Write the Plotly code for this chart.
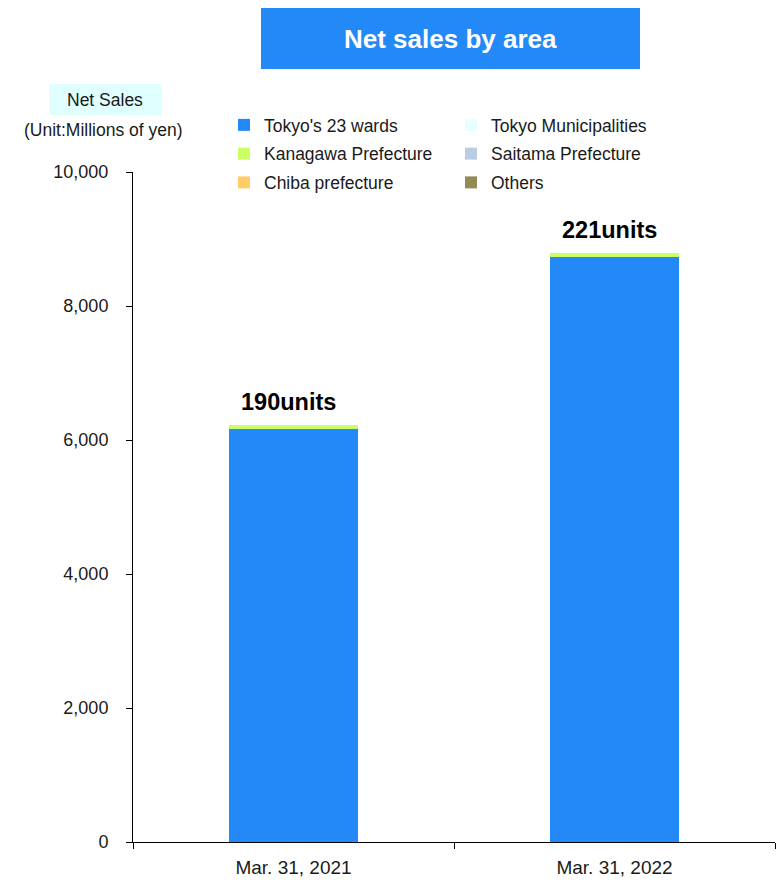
import plotly.graph_objects as go

# Fiscal year-end categories
periods = ["Mar. 31, 2021", "Mar. 31, 2022"]

# Net sales by area (millions of yen)
tokyo_23_wards = [6157, 8729]
tokyo_municipalities = [0, 0]
kanagawa = [64, 64]
saitama = [0, 0]
chiba = [0, 0]
others = [0, 0]

# Units sold per period
units = [190, 221]

y_ticks = [0, 2000, 4000, 6000, 8000, 10000]

W, H = 781, 882
M_L, M_R, M_T, M_B = 133, 6, 172, 40
PW, PH = W - M_L - M_R, H - M_T - M_B


def px_x(px):
    return (px - M_L) / PW


def px_y(py):
    return 1 + (M_T - py) / PH


FONT = "Liberation Sans, Arial, sans-serif"
INK = "#1a1a1a"

series = [
    ("Tokyo's 23 wards", tokyo_23_wards, "#2389F7", "legend"),
    ("Tokyo Municipalities", tokyo_municipalities, "#E6FFFF", "legend2"),
    ("Kanagawa Prefecture", kanagawa, "#CCFF66", "legend"),
    ("Saitama Prefecture", saitama, "#B8CCE4", "legend2"),
    ("Chiba prefecture", chiba, "#FFCC66", "legend"),
    ("Others", others, "#948A54", "legend2"),
]

fig = go.Figure()
for name, vals, color, leg in series:
    fig.add_trace(go.Bar(
        x=periods, y=vals, name=name, marker_color=color,
        marker_line_width=0, legend=leg, legendgroup=name,
    ))

totals = [sum(v) for v in zip(*[s[1] for s in series])]
for p, t, u in zip(periods, totals, units):
    fig.add_annotation(
        x=p, y=t, text=f"<b>{u}units</b>", showarrow=False,
        xanchor="center", yanchor="bottom", yshift=8, xshift=-5,
        font=dict(family=FONT, size=23.5, color="#000000"),
    )

# Title banner
fig.add_shape(type="rect", xref="paper", yref="paper",
              x0=px_x(261), x1=px_x(640), y0=px_y(69), y1=px_y(8),
              fillcolor="#2389F7", line_width=0, layer="below")
fig.add_annotation(xref="paper", yref="paper", x=px_x(450), y=px_y(39),
                   xanchor="center", yanchor="middle",
                   text="<b>Net sales by area</b>", showarrow=False,
                   font=dict(family=FONT, size=26, color="#FFFFFF"))

# Axis caption
fig.add_shape(type="rect", xref="paper", yref="paper",
              x0=px_x(49), x1=px_x(162), y0=px_y(115), y1=px_y(84),
              fillcolor="#E0FFFF", line_width=0, layer="below")
fig.add_annotation(xref="paper", yref="paper", x=px_x(105), y=px_y(100),
                   xanchor="center", yanchor="middle",
                   text="Net Sales", showarrow=False,
                   font=dict(family=FONT, size=17.5, color=INK))
fig.add_annotation(xref="paper", yref="paper", x=px_x(103), y=px_y(130),
                   xanchor="center", yanchor="middle",
                   text="(Unit:Millions of yen)", showarrow=False,
                   font=dict(family=FONT, size=17.5, color=INK))

legend_common = dict(
    orientation="v", yanchor="top", xanchor="left",
    bgcolor="rgba(0,0,0,0)", tracegroupgap=3,
    font=dict(family=FONT, size=17.5, color=INK),
    traceorder="grouped",
)

fig.update_layout(
    width=W, height=H,
    margin=dict(l=M_L, r=M_R, t=M_T, b=M_B),
    paper_bgcolor="#FFFFFF", plot_bgcolor="#FFFFFF",
    barmode="stack", bargap=0.6,
    showlegend=True,
    legend=dict(x=px_x(224), y=px_y(107), **legend_common),
    legend2=dict(x=px_x(451), y=px_y(107), **legend_common),
    font=dict(family=FONT, size=17, color=INK),
    xaxis=dict(
        showline=True, linecolor="#000000", linewidth=1,
        ticks="outside", tickson="boundaries", ticklen=6,
        tickcolor="#000000", showgrid=False, ticklabelstandoff=8,
        automargin=False,
        tickfont=dict(family=FONT, size=19, color=INK),
    ),
    yaxis=dict(
        range=[0, 10000], tickvals=y_ticks, tickformat=",",
        showline=True, linecolor="#000000", linewidth=1,
        ticks="outside", ticklen=6, tickcolor="#000000",
        showgrid=False, zeroline=False, ticklabelstandoff=14,
        automargin=False,
        tickfont=dict(family=FONT, size=18, color=INK),
    ),
)

fig.write_html("out.html")
